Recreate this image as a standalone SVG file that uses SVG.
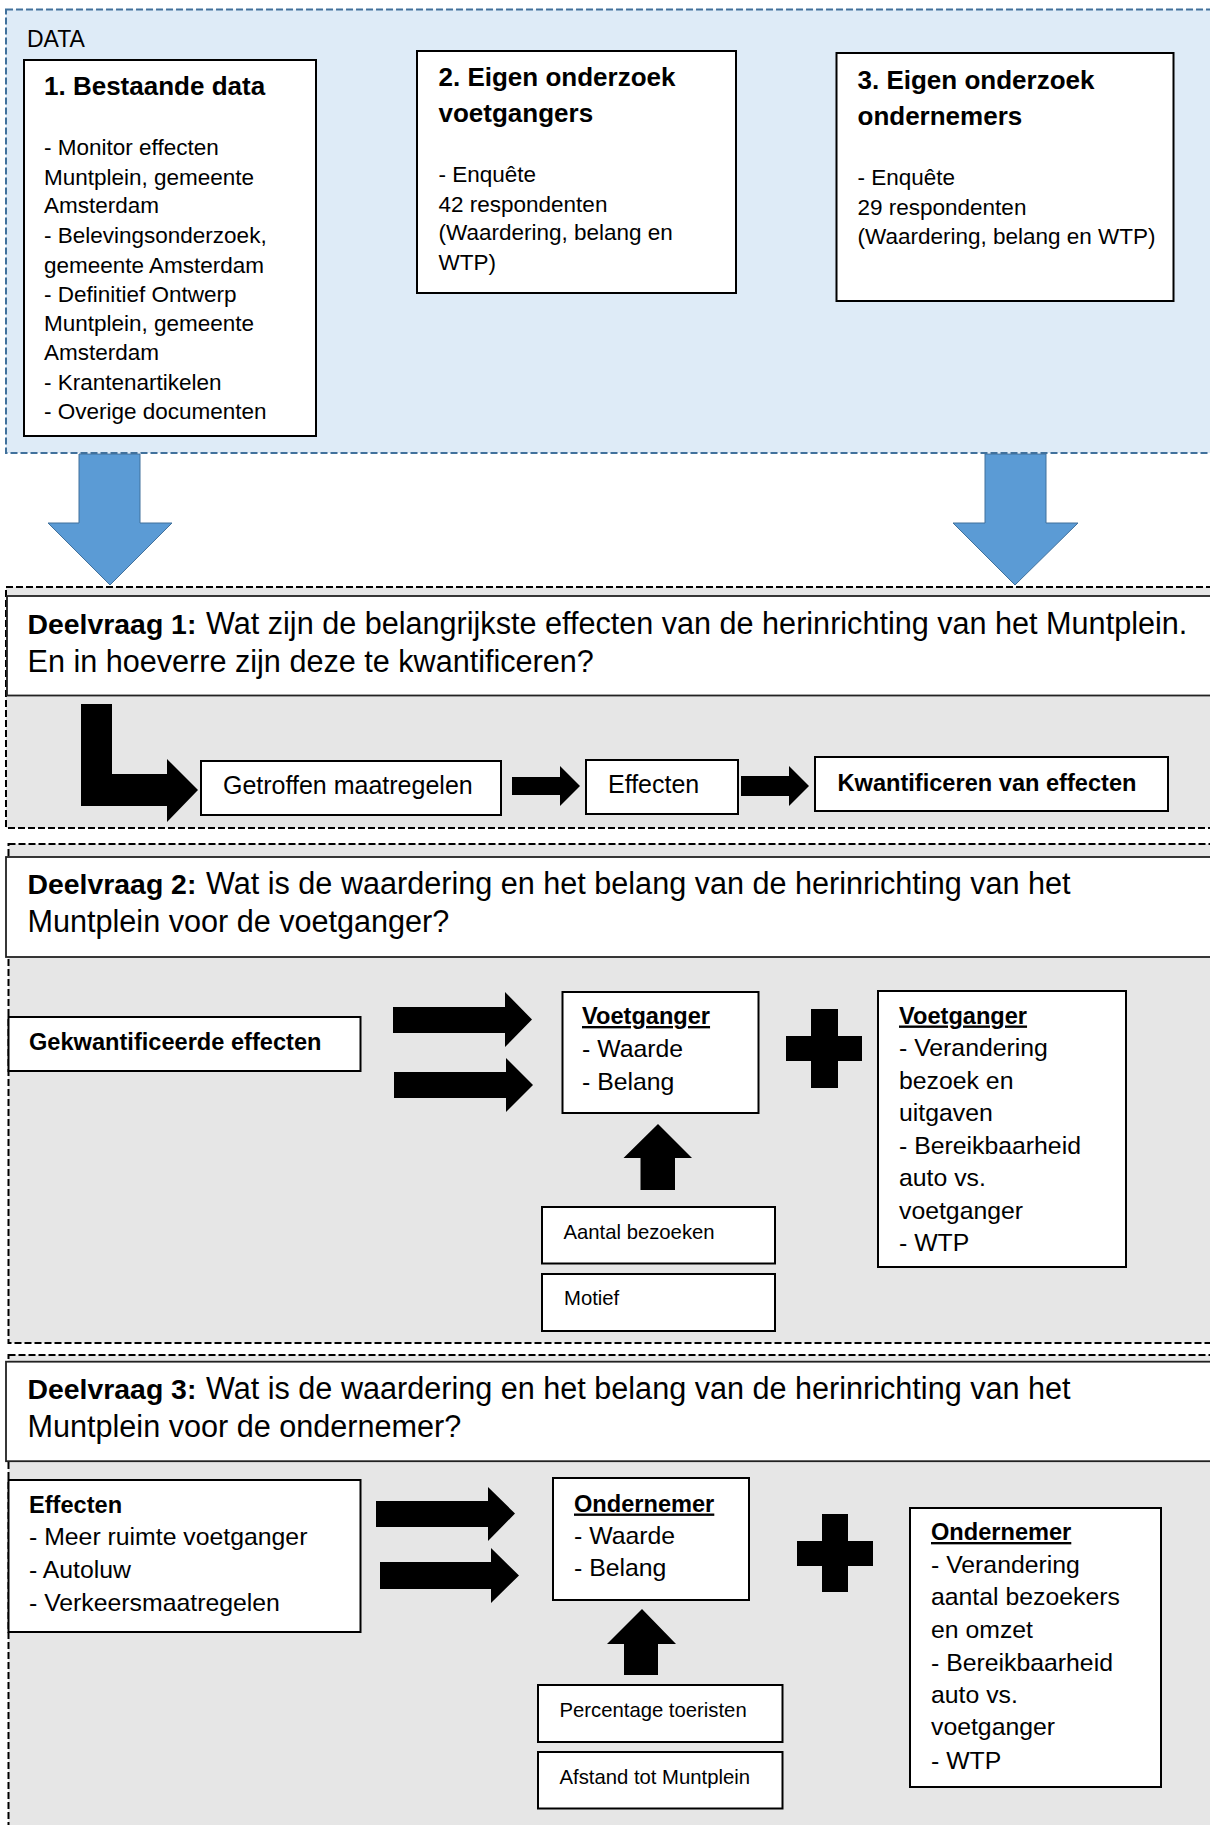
<svg xmlns="http://www.w3.org/2000/svg" width="1210" height="1825" viewBox="0 0 1210 1825">
<style>
text{font-family:"Liberation Sans",Arial,sans-serif;fill:#000}
.box{fill:#fff;stroke:#000;stroke-width:2}
.hdr{fill:#fff;stroke:#222;stroke-width:1.8}
.sec{fill:#e6e6e6;stroke:#000;stroke-width:2;stroke-dasharray:7 3}
.data{fill:#deebf7;stroke:#41719c;stroke-width:2;stroke-dasharray:7 3}
.blue{fill:#5b9bd5;stroke:#41719c;stroke-width:1}
.blk{fill:#000}
.s22{font-size:22.5px}
.s26b{font-size:26px;font-weight:bold}
.h{font-size:30.6px}
.hb{font-size:28.4px;font-weight:bold}
.s25{font-size:25px}
.s24{font-size:24.8px}
.s24b{font-size:23.6px;font-weight:bold}
.s20{font-size:20.3px}
.u{text-decoration:underline}
</style>

<g id="data-section">
<rect class="data" x="6" y="9.5" width="1214" height="443.5"/>
<text x="27" y="47" style="font-size:23px">DATA</text>
</g>

<g id="bestaande-data">
<rect class="box" x="24" y="60" width="292" height="376"/>
<text x="44" y="95" class="s26b">1. Bestaande data</text>
<text class="s22">
<tspan x="44" y="155">- Monitor effecten</tspan>
<tspan x="44" y="185">Muntplein, gemeente</tspan>
<tspan x="44" y="213">Amsterdam</tspan>
<tspan x="44" y="243">- Belevingsonderzoek,</tspan>
<tspan x="44" y="273">gemeente Amsterdam</tspan>
<tspan x="44" y="302">- Definitief Ontwerp</tspan>
<tspan x="44" y="331">Muntplein, gemeente</tspan>
<tspan x="44" y="360">Amsterdam</tspan>
<tspan x="44" y="390">- Krantenartikelen</tspan>
<tspan x="44" y="419">- Overige documenten</tspan>
</text>
</g>

<g id="eigen-voetgangers">
<rect class="box" x="417" y="51" width="319" height="242"/>
<text class="s26b"><tspan x="438.5" y="86">2. Eigen onderzoek</tspan><tspan x="438.5" y="122">voetgangers</tspan></text>
<text class="s22">
<tspan x="438.5" y="182">- Enquête</tspan>
<tspan x="438.5" y="212">42 respondenten</tspan>
<tspan x="438.5" y="240">(Waardering, belang en</tspan>
<tspan x="438.5" y="270">WTP)</tspan>
</text>
</g>

<g id="eigen-ondernemers">
<rect class="box" x="836.5" y="53" width="337" height="248"/>
<text class="s26b"><tspan x="857.5" y="89">3. Eigen onderzoek</tspan><tspan x="857.5" y="125">ondernemers</tspan></text>
<text class="s22">
<tspan x="857.5" y="185">- Enquête</tspan>
<tspan x="857.5" y="215">29 respondenten</tspan>
<tspan x="857.5" y="244">(Waardering, belang en WTP)</tspan>
</text>
</g>

<g id="deelvraag1">
<rect class="sec" x="6" y="587" width="1214" height="241"/>
<rect class="hdr" x="7" y="596" width="1213" height="99.5"/>
<text y="633.5"><tspan x="27.5" class="hb">Deelvraag 1:</tspan><tspan x="206" class="h">Wat zijn de belangrijkste effecten van de herinrichting van het Muntplein.</tspan></text>
<text x="27.5" y="672" class="h">En in hoeverre zijn deze te kwantificeren?</text>
</g>

<g id="getroffen-maatregelen">
<rect class="box" x="201" y="761" width="300" height="54"/>
<text x="223" y="793.5" class="s25">Getroffen maatregelen</text>
</g>
<g id="effecten-1">
<rect class="box" x="586" y="760" width="152" height="54"/>
<text x="608" y="792.5" class="s25">Effecten</text>
</g>
<g id="kwantificeren">
<rect class="box" x="815" y="757" width="353" height="54"/>
<text x="837.5" y="791" class="s24b">Kwantificeren van effecten</text>
</g>

<g id="deelvraag2">
<rect class="sec" x="8.5" y="844" width="1212" height="499"/>
<rect class="hdr" x="6" y="857" width="1214" height="100"/>
<text y="893.5"><tspan x="27.5" class="hb">Deelvraag 2:</tspan><tspan x="206" class="h">Wat is de waardering en het belang van de herinrichting van het</tspan></text>
<text x="27.5" y="932" class="h">Muntplein voor de voetganger?</text>
</g>

<g id="gekwantificeerde-effecten">
<rect class="box" x="8.5" y="1017" width="352" height="54"/>
<text x="29" y="1049.5" class="s24b">Gekwantificeerde effecten</text>
</g>
<g id="voetganger-waarde">
<rect class="box" x="562.5" y="992" width="196" height="121"/>
<text x="582" y="1024" class="s24b u">Voetganger</text>
<text class="s24"><tspan x="582" y="1057">- Waarde</tspan><tspan x="582" y="1089.5">- Belang</tspan></text>
</g>
<g id="aantal-bezoeken">
<rect class="box" x="542" y="1207" width="233" height="56.5"/>
<text x="563.5" y="1238.5" class="s20">Aantal bezoeken</text>
</g>
<g id="motief">
<rect class="box" x="542" y="1274" width="233" height="57"/>
<text x="564" y="1305" class="s20">Motief</text>
</g>
<g id="voetganger-factoren">
<rect class="box" x="878" y="991" width="248" height="276"/>
<text x="899" y="1023.5" class="s24b u">Voetganger</text>
<text class="s24">
<tspan x="899" y="1056">- Verandering</tspan>
<tspan x="899" y="1088.5">bezoek en</tspan>
<tspan x="899" y="1121">uitgaven</tspan>
<tspan x="899" y="1153.5">- Bereikbaarheid</tspan>
<tspan x="899" y="1186">auto vs.</tspan>
<tspan x="899" y="1218.5">voetganger</tspan>
<tspan x="899" y="1251">- WTP</tspan>
</text>
</g>

<g id="deelvraag3">
<rect class="sec" x="8.5" y="1355" width="1212" height="480"/>
<rect class="hdr" x="6" y="1361.7" width="1214" height="99.5"/>
<text y="1398.5"><tspan x="27.5" class="hb">Deelvraag 3:</tspan><tspan x="206" class="h">Wat is de waardering en het belang van de herinrichting van het</tspan></text>
<text x="27.5" y="1437" class="h">Muntplein voor de ondernemer?</text>
</g>

<g id="effecten-3">
<rect class="box" x="8.5" y="1480" width="352" height="152"/>
<text x="29" y="1513" class="s24b">Effecten</text>
<text class="s24">
<tspan x="29" y="1545">- Meer ruimte voetganger</tspan>
<tspan x="29" y="1577.5">- Autoluw</tspan>
<tspan x="29" y="1611">- Verkeersmaatregelen</tspan>
</text>
</g>
<g id="ondernemer-waarde">
<rect class="box" x="553" y="1478" width="196" height="122"/>
<text x="574" y="1511.5" class="s24b u">Ondernemer</text>
<text class="s24"><tspan x="574" y="1543.5">- Waarde</tspan><tspan x="574" y="1576">- Belang</tspan></text>
</g>
<g id="percentage-toeristen">
<rect class="box" x="538" y="1685" width="244.5" height="57"/>
<text x="559.5" y="1716.5" class="s20">Percentage toeristen</text>
</g>
<g id="afstand">
<rect class="box" x="538" y="1752" width="244.5" height="56.5"/>
<text x="559.5" y="1784" class="s20">Afstand tot Muntplein</text>
</g>
<g id="ondernemer-factoren">
<rect class="box" x="910" y="1508" width="251" height="279"/>
<text x="931" y="1540" class="s24b u">Ondernemer</text>
<text class="s24">
<tspan x="931" y="1572.5">- Verandering</tspan>
<tspan x="931" y="1605">aantal bezoekers</tspan>
<tspan x="931" y="1637.5">en omzet</tspan>
<tspan x="931" y="1670.5">- Bereikbaarheid</tspan>
<tspan x="931" y="1702.5">auto vs.</tspan>
<tspan x="931" y="1735">voetganger</tspan>
<tspan x="931" y="1768.5">- WTP</tspan>
</text>
</g>

<g id="connectors">
<polygon class="blue" points="79,454 140,454 140,523 172,523 110,585 48,523 79,523"/>
<polygon class="blue" points="985,454 1046,454 1046,523 1078,523 1015,585 953,523 985,523"/>
<polygon class="blk" points="81,704 112,704 112,774 167,774 167,759 198,790 167,822 167,806 81,806"/>
<polygon class="blk" points="512,777 560,777 560,766 580,786 560,806 560,795 512,795"/>
<polygon class="blk" points="741,776 789,776 789,766 809,786 789,806 789,796 741,796"/>
<polygon class="blk" points="393,1007 505,1007 505,992 532,1019.5 505,1047 505,1033 393,1033"/>
<polygon class="blk" points="394,1072 506,1072 506,1058 533,1085 506,1112 506,1098 394,1098"/>
<polygon class="blk" points="811,1009 838,1009 838,1036 862,1036 862,1061 838,1061 838,1088 811,1088 811,1061 786,1061 786,1036 811,1036"/>
<polygon class="blk" points="658,1124 692,1158 675,1158 675,1190 640.5,1190 640.5,1158 623.5,1158"/>
<polygon class="blk" points="376,1501 488,1501 488,1487 515,1513.5 488,1541 488,1527 376,1527"/>
<polygon class="blk" points="380,1562 491,1562 491,1548 519,1575.5 491,1603 491,1589 380,1589"/>
<polygon class="blk" points="822,1514 848,1514 848,1541 873,1541 873,1566 848,1566 848,1592 822,1592 822,1566 797,1566 797,1541 822,1541"/>
<polygon class="blk" points="642,1609 676,1644 658,1644 658,1675 624,1675 624,1644 607,1644"/>
</g>
</svg>
